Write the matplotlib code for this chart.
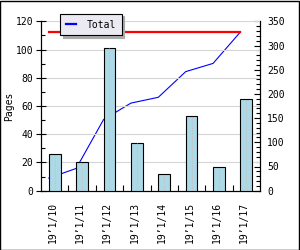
import numpy as np
import matplotlib
matplotlib.use("Agg")
import matplotlib.pyplot as plt
from matplotlib.patches import Rectangle
from matplotlib.ticker import MultipleLocator, FixedLocator

# data
dates = ["19’1/10", "19’1/11", "19’1/12", "19’1/13", "19’1/14", "19’1/15", "19’1/16", "19’1/17"]
pages = [26, 20, 101, 34, 12, 53, 17, 65]
running = [26, 46, 147, 181, 193, 246, 263, 328]
total = 328

plt.rcParams.update({"font.family": "DejaVu Sans Mono", "font.size": 7})

fig = plt.figure(figsize=(3.0, 2.5), dpi=100)
fig.patch.set_facecolor("white")
ax2 = fig.add_axes([0.1367, 0.2372, 0.73, 0.6776])
ax = ax2.twinx()
ax.yaxis.tick_left(); ax.yaxis.set_label_position("left")
ax2.yaxis.tick_right()
ax.set_zorder(ax2.get_zorder() + 1)
ax.patch.set_visible(False)

x = np.arange(len(dates))
w = 0.43
xl = x - w / 2

# right axis: running total + total line
ax2.plot(xl, running, color="#0000ff", lw=0.8)
ax2.plot([xl[0], xl[-1]], [total, total], color="#ff0000", lw=1.6)
ax2.set_ylim(0, 350)
ax2.yaxis.set_major_locator(MultipleLocator(50))
ax2.yaxis.set_minor_locator(MultipleLocator(10))
ax2.tick_params(axis="y", which="major", direction="in", length=4, width=0.8, pad=5)
ax2.tick_params(axis="y", which="minor", direction="in", length=3, width=0.8)

# x axis lives on the bottom (original) axes
ax2.set_xlim(-0.5, len(dates) - 0.5)
ax2.set_xticks(x - 0.08)
ax2.set_xticklabels(dates)
plt.setp(ax2.get_xticklabels(), rotation=90)
ax2.xaxis.set_minor_locator(FixedLocator(x[:-1] + 0.5))
ax2.tick_params(axis="x", which="major", length=0, pad=8)
ax2.tick_params(axis="x", which="minor", direction="in", length=4, width=0.8)

# left axis: bars
ax.bar(x, pages, width=w, color="#add8e6", edgecolor="black", lw=0.8, zorder=3)
ax.vlines(x, 0, pages, colors="#d8b0b0", linestyles=(0, (1, 2)), lw=0.6, zorder=4)
ax.set_ylim(0, 120)
ax.yaxis.set_major_locator(MultipleLocator(20))
ax.yaxis.set_minor_locator(MultipleLocator(10))
ax.tick_params(axis="y", which="major", direction="inout", length=7, width=0.8, pad=2)
ax.tick_params(axis="y", which="minor", direction="in", length=3, width=0.8)
ax.set_axisbelow(True)
ax.grid(axis="y", color="#d6d6d6", lw=0.8)
ax.get_ygridlines()[-1].set_visible(False)
ax.set_ylabel("Pages")
ax.yaxis.set_label_coords(-0.125, 0.5)

for a in (ax, ax2):
    a.spines["top"].set_visible(False)
    for s in ("left", "right", "bottom"):
        a.spines[s].set_linewidth(0.8)

leg = ax.legend([plt.Line2D([], [], color="#0000ff", lw=1.6)], ["Total"],
                loc="upper left", bbox_to_anchor=(0.087, 1.045), borderaxespad=0,
                fancybox=False, shadow={"color": "#aaaaaa", "alpha": 1},
                framealpha=1, facecolor="#ebe9f2", edgecolor="black",
                handlelength=1.0, handletextpad=1.1, borderpad=0.6)
leg.get_frame().set_linewidth(0.8)
leg.set_zorder(10)

fig.patches.append(Rectangle((0.0015, 0.002), 0.994, 0.993, transform=fig.transFigure,
                             fill=False, edgecolor="black", lw=1.0))

fig.savefig("out.png", dpi=100)
